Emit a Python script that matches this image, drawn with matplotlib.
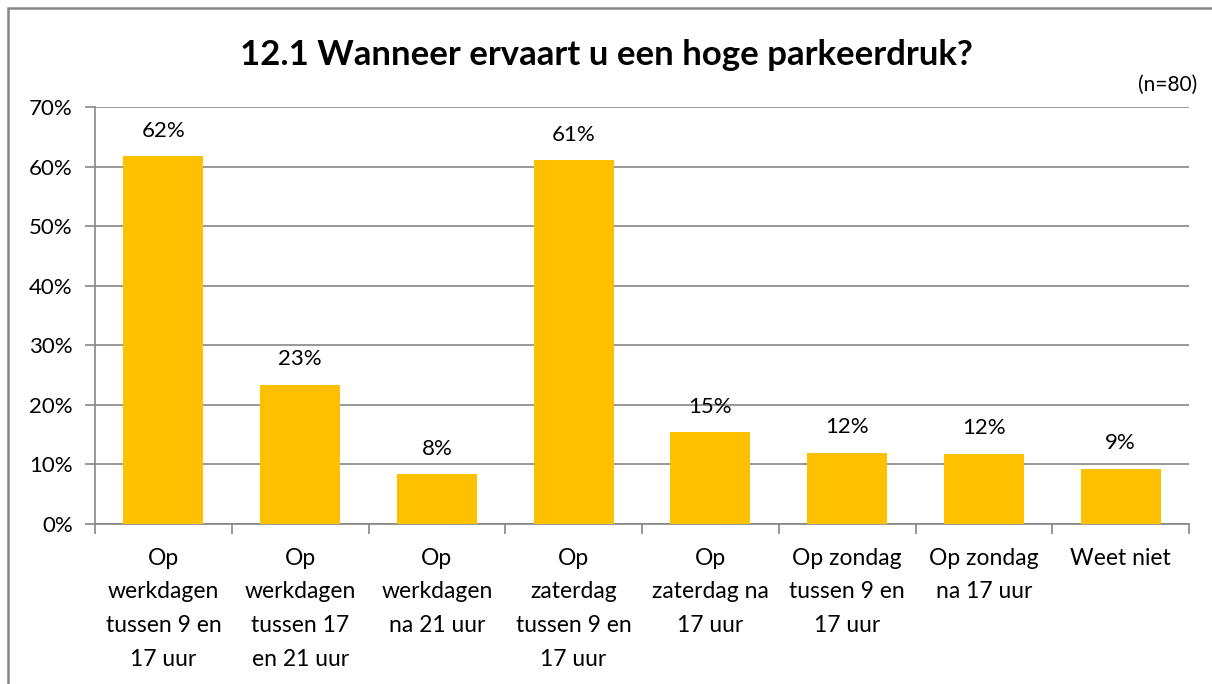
import numpy as np
import matplotlib.pyplot as plt
from matplotlib.lines import Line2D
from matplotlib.ticker import FixedLocator, PercentFormatter

plt.rcParams['font.family'] = ['Lato', 'DejaVu Sans']

# data
categories = [
    "Op\nwerkdagen\ntussen 9 en\n17 uur",
    "Op\nwerkdagen\ntussen 17\nen 21 uur",
    "Op\nwerkdagen\nna 21 uur",
    "Op\nzaterdag\ntussen 9 en\n17 uur",
    "Op\nzaterdag na\n17 uur",
    "Op zondag\ntussen 9 en\n17 uur",
    "Op zondag\nna 17 uur",
    "Weet niet",
]
values = [61.7, 23.4, 8.4, 61.1, 15.4, 12.0, 11.8, 9.3]
yticks = [0, 10, 20, 30, 40, 50, 60, 70]

bar_color = "#FFC000"
grid_color = "#868686"

fig = plt.figure(figsize=(12.12, 6.84), dpi=100)
ax = fig.add_axes([95 / 1212, 1 - 524 / 684, (1189 - 95) / 1212, (524 - 107) / 684])

x = np.arange(len(categories))
bars = ax.bar(x, values, width=0.585, color=bar_color, zorder=3)

for b, v in zip(bars, values):
    ax.annotate("{:.0f}%".format(v), (b.get_x() + b.get_width() / 2, v),
                xytext=(0, 11), textcoords="offset points",
                ha="center", va="bottom", fontsize=16)

ax.set_xlim(-0.5, len(categories) - 0.5)
ax.set_ylim(0, 70)
ax.yaxis.set_major_locator(FixedLocator(yticks))
ax.yaxis.set_major_formatter(PercentFormatter(decimals=0))
ax.grid(axis="y", color=grid_color, linewidth=1.2, zorder=0)

ax.set_xticks(x)
ax.set_xticklabels(categories, fontsize=16.5, linespacing=1.75, va="top")
ax.tick_params(axis="x", which="major", length=0, pad=17)
ax.xaxis.set_minor_locator(FixedLocator(np.arange(-0.5, len(categories), 1.0)))
ax.tick_params(axis="x", which="minor", length=7, color=grid_color, width=1.2)
ax.tick_params(axis="y", length=7, color=grid_color, width=1.2, labelsize=16, pad=9)

for s in ["top", "right"]:
    ax.spines[s].set_visible(False)
for s in ["left", "bottom"]:
    ax.spines[s].set_color(grid_color)
    ax.spines[s].set_linewidth(1.2)

fig.text(0.5, 1 - 55 / 684, "12.1 Wanneer ervaart u een hoge parkeerdruk?",
         ha="center", va="center", fontsize=25, fontweight="bold")
fig.text(1197 / 1212, 1 - 85 / 684, "(n=80)", ha="right", va="center", fontsize=15)

# outer chart border (only left and top edges are visible in the crop)
x0, y0 = 7.5 / 1212, 1 - 7.5 / 684
fig.add_artist(Line2D([x0, x0, 1.01], [-0.01, y0, y0], transform=fig.transFigure,
                      color=grid_color, linewidth=1.8, solid_capstyle="butt",
                      solid_joinstyle="miter"))

fig.savefig("out.png", dpi=100)
